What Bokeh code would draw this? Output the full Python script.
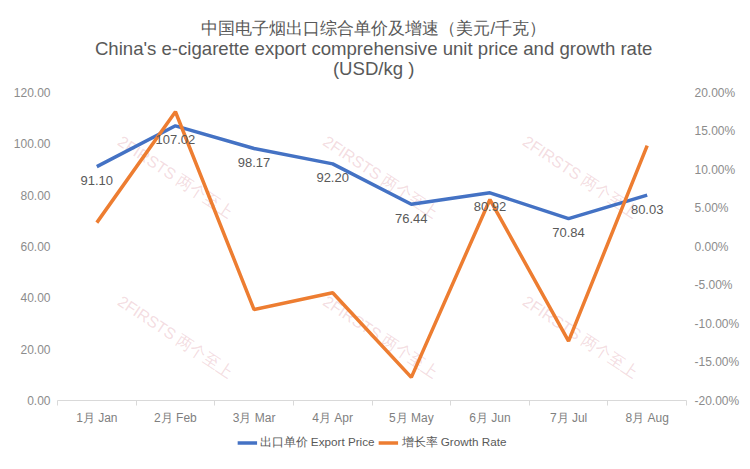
from bokeh.plotting import figure
from bokeh.layouts import column
from bokeh.models import (Range1d, LinearAxis, FixedTicker, PrintfTickFormatter,
                          CustomJSTickFormatter, ColumnDataSource, LabelSet, Legend,
                          LegendItem)
from bokeh.core.properties import value
from bokeh.embed import file_html
from bokeh.resources import INLINE

# ---------------- data ----------------
months = ["1月 Jan", "2月 Feb", "3月 Mar", "4月 Apr", "5月 May", "6月 Jun", "7月 Jul", "8月 Aug"]
price = [91.10, 107.02, 98.17, 92.20, 76.44, 80.92, 70.84, 80.03]
growth = [3.1, 17.5, -8.2, -6.0, -17.0, 6.1, -12.3, 13.1]
price_ticks = [0, 20, 40, 60, 80, 100, 120]
growth_ticks = [-20, -15, -10, -5, 0, 5, 10, 15, 20]
title_lines = ["中国电子烟出口综合单价及增速（美元/千克）",
               "China's e-cigarette export comprehensive unit price and growth rate",
               "(USD/kg )"]
title_sizes = ["16.6px", "18.6px", "18.6px"]
legend_price = "出口单价 Export Price"
legend_growth = "增长率 Growth Rate"
watermark = "2FIRSTS 两个至上"

FONT = "Liberation Sans"
BLUE = "#4472C4"
ORANGE = "#ED7D31"
TW = 742          # width of the title / legend strips
TITLE_H = 84

xs = [i + 0.5 for i in range(len(months))]
src = ColumnDataSource(dict(
    x=xs, price=price, growth=growth,
    plabel=[f"{v:.2f}" for v in price],
))

# ---------------- title strip ----------------
tf = figure(width=TW, height=TITLE_H, output_backend="svg", toolbar_location=None,
            x_range=Range1d(0, TW), y_range=Range1d(TITLE_H, 0), min_border=0,
            x_axis_location=None, y_axis_location=None, outline_line_color=None,
            background_fill_color="white", border_fill_color="white")
tf.grid.visible = False
tsrc = ColumnDataSource(dict(x=[373] * 3, y=[28, 48, 68], t=title_lines, s=title_sizes))
tf.text(x="x", y="y", text="t", text_font_size="s", source=tsrc, text_font=value(FONT),
        text_color="#595959", text_align="center", text_baseline="middle")

# ---------------- main chart ----------------
p = figure(frame_width=629, frame_height=308, output_backend="svg", toolbar_location=None,
           x_range=Range1d(0, len(months)), y_range=Range1d(price_ticks[0], price_ticks[-1]),
           min_border_left=57, min_border_right=50, min_border_top=8, min_border_bottom=24,
           background_fill_color="white", border_fill_color="white", outline_line_color=None)
p.extra_y_ranges = {"g": Range1d(growth_ticks[0], growth_ticks[-1])}
p.grid.visible = False

# watermark (decorative)
wm_src = ColumnDataSource(dict(
    x=[0.79, 3.40, 5.94, 0.79, 3.40, 5.94],
    y=[101.6, 101.6, 101.6, 39.3, 39.3, 39.3],
    t=[watermark] * 6,
))
p.text(x="x", y="y", text="t", source=wm_src, angle=-0.587, text_font=value(FONT),
       text_font_size="16px", text_color="#d98c9a", text_alpha=0.3,
       text_align="left", text_baseline="middle")

xa = p.xaxis[0]
xa.ticker = FixedTicker(ticks=xs, minor_ticks=list(range(len(months) + 1)))
xa.formatter = CustomJSTickFormatter(args=dict(labels=months),
                                     code="return labels[Math.floor(tick)];")
xa.axis_line_color = "#d9d9d9"
xa.major_tick_line_color = None
xa.major_tick_out = 0
xa.major_tick_in = 0
xa.minor_tick_line_color = "#d9d9d9"
xa.minor_tick_in = 0
xa.minor_tick_out = 5
xa.major_label_text_font = FONT
xa.major_label_text_font_size = "12px"
xa.major_label_text_color = "#7f7f7f"
xa.major_label_standoff = 5

ya = p.yaxis[0]
ya.ticker = FixedTicker(ticks=price_ticks)
ya.formatter = PrintfTickFormatter(format="%.2f")
ya.major_label_standoff = 7

ra = LinearAxis(y_range_name="g", ticker=FixedTicker(ticks=growth_ticks),
                formatter=PrintfTickFormatter(format="%.2f%%"))
ra.major_label_standoff = 8
p.add_layout(ra, "right")

for ax in (ya, ra):
    ax.axis_line_color = None
    ax.major_tick_line_color = None
    ax.major_tick_out = 0
    ax.major_tick_in = 0
    ax.minor_tick_line_color = None
    ax.major_label_text_font = FONT
    ax.major_label_text_font_size = "12px"
    ax.major_label_text_color = "#8c8c8c"

r_price = p.line("x", "price", source=src, line_color=BLUE, line_width=3.5)
r_growth = p.line("x", "growth", source=src, y_range_name="g", line_color=ORANGE, line_width=3.5)

labels = LabelSet(x="x", y="price", text="plabel", source=src, y_offset=-14,
                  text_align="center", text_baseline="middle", text_font=value(FONT),
                  text_font_size="13px", text_color="#595959")
p.add_layout(labels)

# ---------------- legend strip ----------------
lf = figure(width=TW, height=30, output_backend="svg", toolbar_location=None,
            x_range=Range1d(0, len(months)), y_range=Range1d(1000, 1001), min_border=0,
            x_axis_location=None, y_axis_location=None, outline_line_color=None,
            background_fill_color="white", border_fill_color="white")
lf.grid.visible = False
# same series, drawn off-screen, only to feed the legend swatches
lp = lf.line("x", "price", source=src, line_color=BLUE, line_width=3.5)
lg = lf.line("x", "growth", source=src, line_color=ORANGE, line_width=3.5)
legend = Legend(items=[LegendItem(label=legend_price, renderers=[lp]),
                       LegendItem(label=legend_growth, renderers=[lg])],
                orientation="horizontal", location="center",
                border_line_color=None, background_fill_alpha=0,
                label_text_font=FONT, label_text_font_size="11.7px",
                label_text_color="#595959", glyph_width=20, glyph_height=12,
                spacing=4, padding=0, margin=0, label_standoff=3)
lf.add_layout(legend, "center")

layout = column(tf, p, lf, spacing=0)
open("out.html", "w").write(file_html(layout, INLINE))
